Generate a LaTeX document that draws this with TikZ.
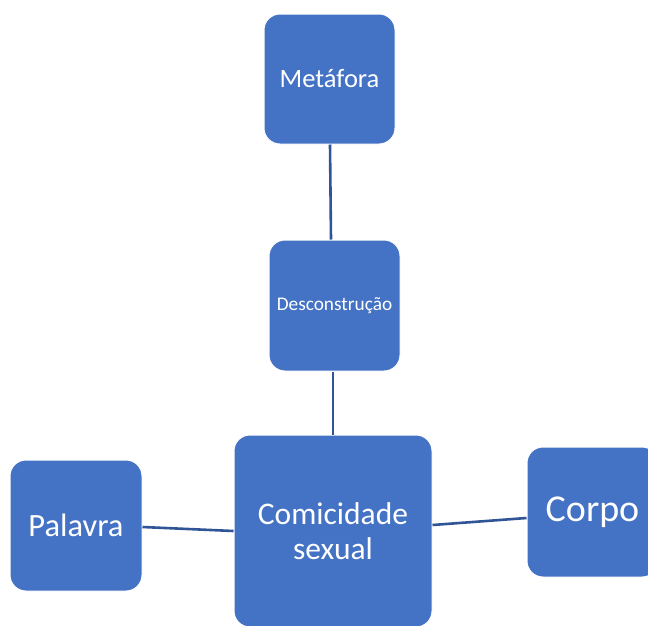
\documentclass[tikz,border=0pt]{standalone}
\usepackage{fontspec}
\setmainfont{Carlito}
\definecolor{boxfill}{HTML}{4472C4}
\definecolor{linkcol}{HTML}{2F5597}
\begin{document}
\begin{tikzpicture}[x=1pt,y=-1pt,
  box/.style={fill=boxfill, draw=white, line width=1pt, rounded corners=16pt, text=white, align=center, inner sep=0pt},
  link/.style={draw=linkcol, line width=2.6pt}]
\useasboundingbox (0,0) rectangle (648,625);
\node[box, minimum width=131pt, minimum height=130pt, font=\fontsize{26.5}{30}\selectfont] (met) at (329.5,79) {Metáfora};
\node[box, minimum width=131pt, minimum height=131pt, font=\fontsize{19.3}{22}\selectfont] (des) at (334.5,305.5) {Desconstrução};
\node[box, minimum width=198pt, minimum height=192pt, font=\fontsize{31.5}{35}\selectfont] (com) at (333,531) {Comicidade\\sexual};
\node[box, minimum width=132pt, minimum height=131pt, font=\fontsize{32.5}{36}\selectfont] (pal) at (76,525.5) {Palavra};
\node[box, minimum width=131pt, minimum height=130pt, font=\fontsize{38}{42}\selectfont] (cor) at (592.5,512) {Corpo};
\draw[link] ([xshift=0.5pt]met.south) -- ([xshift=-3.5pt]des.north);
\draw[link] ([xshift=-1.5pt]des.south) -- (com.north);
\draw[link] ([yshift=-1.5pt]pal.east) -- (com.west);
\draw[link] ([yshift=6pt]com.east) -- ([yshift=-6pt]cor.west);
\end{tikzpicture}
\end{document}
